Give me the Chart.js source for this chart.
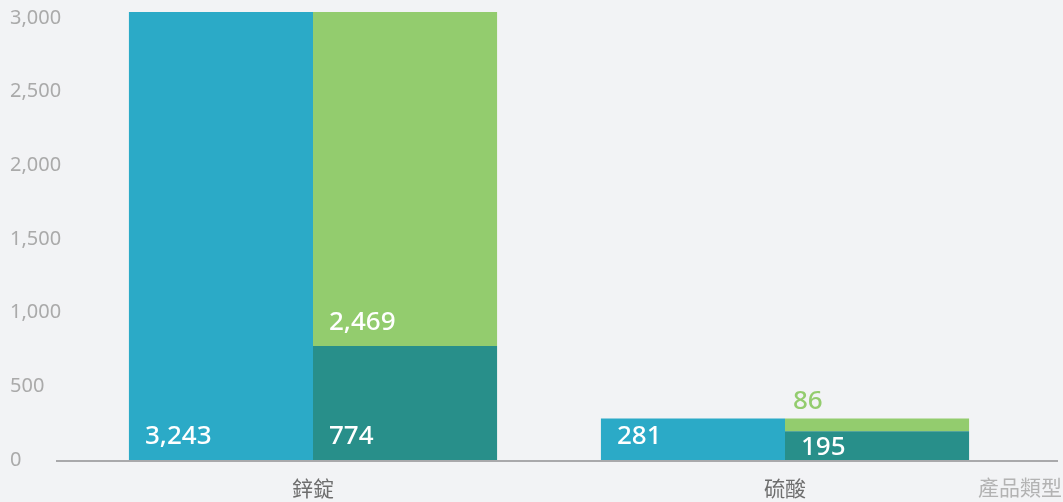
<!DOCTYPE html>
<html>
<head>
<meta charset="utf-8">
<script src="https://cdn.jsdelivr.net/npm/chart.js@4/dist/chart.umd.min.js"></script>
<style>
  html, body { margin: 0; padding: 0; background: #f2f3f5; }
  #wrap { width: 1063px; height: 502px; position: relative; }
</style>
</head>
<body>
<div id="wrap"><canvas id="myChart"></canvas></div>
<script>
  // Product categories and values
  const categories = ['鋅錠', '硫酸'];
  const totalOutput = [3243, 281];
  const partA = [774, 195];
  const partB = [2469, 86];
  const yTicks = [0, 500, 1000, 1500, 2000, 2500, 3000];
  const axisTitle = '產品類型';

  const BLUE = '#2baac7';
  const TEAL = '#288f8a';
  const GREEN = '#93cc6e';
  const FONT = "'Noto Sans', 'Noto Sans CJK TC', sans-serif";

  // Writes the value at the lower left of each bar segment
  const valueLabels = {
    id: 'valueLabels',
    afterDatasetsDraw(chart) {
      const ctx = chart.ctx;
      const area = chart.chartArea;
      ctx.save();
      ctx.font = '500 26px ' + FONT;
      ctx.textAlign = 'left';
      ctx.textBaseline = 'alphabetic';
      chart.data.datasets.forEach((ds, i) => {
        chart.getDatasetMeta(i).data.forEach((bar, j) => {
          const v = ds.data[j];
          const left = bar.x - bar.width / 2;
          const top = Math.max(bar.y, area.top);
          const bottom = bar.base;
          const text = v.toLocaleString('en-US');
          if (bottom - top < 24) {
            ctx.fillStyle = ds.backgroundColor;
            ctx.fillText(text, left + 8, top - 10);
          } else {
            ctx.fillStyle = '#ffffff';
            ctx.fillText(text, left + 16, Math.max(bottom - 16, top + 24));
          }
        });
      });
      ctx.restore();
    }
  };

  // Baseline across the plot and the axis name on the right
  const baseline = {
    id: 'baseline',
    afterDatasetsDraw(chart) {
      const ctx = chart.ctx;
      const y0 = chart.scales.y.getPixelForValue(0);
      ctx.save();
      ctx.strokeStyle = 'rgba(0,0,0,0.3)';
      ctx.lineWidth = 2;
      ctx.beginPath();
      ctx.moveTo(56, y0 + 1);
      ctx.lineTo(1058, y0 + 1);
      ctx.stroke();
      ctx.font = '21px ' + FONT;
      ctx.fillStyle = '#b3b3b3';
      ctx.textAlign = 'right';
      ctx.textBaseline = 'middle';
      ctx.fillText(axisTitle, 1062, 489);
      ctx.restore();
    }
  };

  const ctx = document.getElementById('myChart').getContext('2d');

  const myChart = new Chart(ctx, {
    type: 'bar',
    data: {
      labels: categories,
      datasets: [{
        label: 'total',
        data: totalOutput,
        backgroundColor: BLUE,
        stack: 'a'
      }, {
        label: 'a',
        data: partA,
        backgroundColor: TEAL,
        stack: 'b'
      }, {
        label: 'b',
        data: partB,
        backgroundColor: GREEN,
        stack: 'b'
      }]
    },
    options: {
      responsive: true,
      maintainAspectRatio: false,
      animation: false,
      categoryPercentage: 0.78,
      barPercentage: 1,
      layout: {
        padding: { left: 10, right: 42, top: 0, bottom: 0 }
      },
      plugins: {
        legend: { display: false },
        tooltip: { enabled: false }
      },
      scales: {
        x: {
          grid: { display: false, drawTicks: false },
          border: { display: false },
          afterFit(scale) {
            scale.height = 42;
          },
          ticks: {
            color: '#6e6e6e',
            padding: 17,
            font: { family: FONT, size: 21 }
          }
        },
        y: {
          stacked: true,
          min: 0,
          max: 3040,
          grid: { display: false, drawTicks: false },
          border: { display: false },
          afterBuildTicks(scale) {
            scale.ticks = yTicks.map(v => ({ value: v }));
          },
          afterFit(scale) {
            scale.width = 67;
            scale.paddingTop = 12;
          },
          ticks: {
            crossAlign: 'far',
            color: '#aaaaaa',
            font: { family: FONT, size: 20 },
            callback: v => v.toLocaleString('en-US')
          }
        }
      }
    },
    plugins: [valueLabels, baseline]
  });
</script>
</body>
</html>
